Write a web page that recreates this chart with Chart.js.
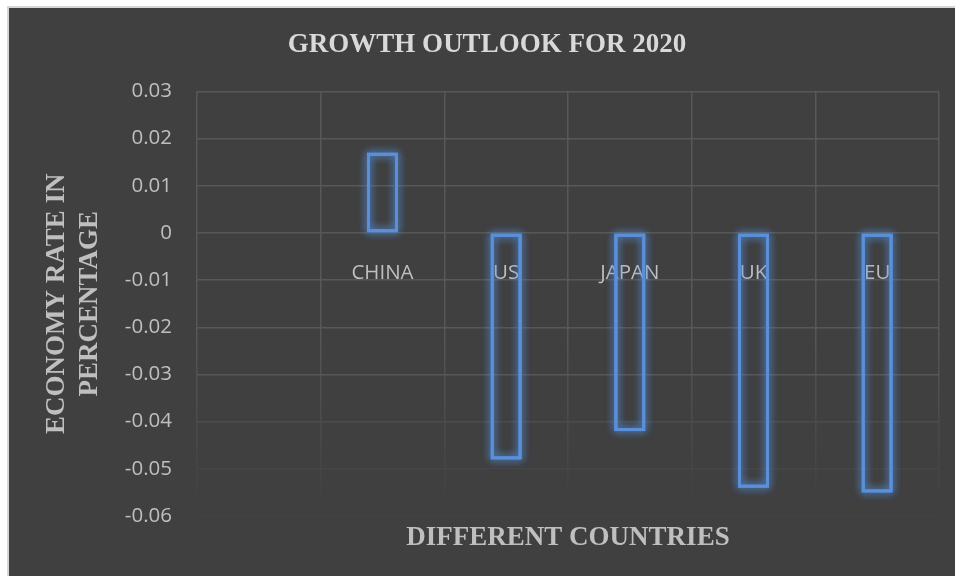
<!DOCTYPE html>
<html>
<head>
<meta charset="utf-8">
<title>Growth Outlook for 2020</title>
<script src="https://cdn.jsdelivr.net/npm/chart.js@4.4.0/dist/chart.umd.min.js"></script>
<style>
  html, body { margin: 0; padding: 0; background: #ffffff; }
  .frame {
    position: absolute;
    left: 7px; top: 6px;
    border-left: 2px solid #d6d6d6;
    border-top: 2px solid #d6d6d6;
    background: #404040;
    width: 946px; height: 568px;
  }
  canvas { display: block; }
</style>
</head>
<body>
<div class="frame">
  <canvas id="outlookChart" width="946" height="568"></canvas>
</div>
<script>
// growth outlook per economy (first slot is left empty)
const countries = ['', 'CHINA', 'US', 'JAPAN', 'UK', 'EU'];
const growthRates = [null, 0.017, -0.048, -0.042, -0.054, -0.055];
const yTicks = [-0.06, -0.05, -0.04, -0.03, -0.02, -0.01, 0, 0.01, 0.02, 0.03];

const serifBold = { family: '"Liberation Serif", "Times New Roman", serif', size: 27, weight: 'bold' };
const sans = { family: '"Open Sans", sans-serif', size: 20.5 };

// soft blue halo around each bar outline
const barGlow = {
  id: 'barGlow',
  beforeDatasetsDraw(chart) {
    const ctx = chart.ctx;
    ctx.save();
    ctx.shadowColor = 'rgba(84,145,225,1)';
    ctx.shadowBlur = 9;
    ctx.strokeStyle = 'rgba(84,145,225,0.8)';
    ctx.lineWidth = 3;
    chart.getDatasetMeta(0).data.forEach((bar, i) => {
      if (growthRates[i] === null) return;
      const { x, y, base, width } = bar.getProps(['x', 'y', 'base', 'width'], true);
      const top = Math.min(y, base);
      for (let pass = 0; pass < 2; pass++) {
        ctx.strokeRect(x - width / 2 + 1.5, top + 1.5, width - 3, Math.abs(base - y) - 3);
      }
    });
    ctx.restore();
  }
};

// grid fades out toward the bottom of the plot
function fadeGradient(chart) {
  const area = chart.chartArea;
  if (!area) return '#575757';
  const g = chart.ctx.createLinearGradient(0, area.top, 0, area.bottom);
  g.addColorStop(0, '#585858');
  g.addColorStop(0.55, '#575757');
  g.addColorStop(0.8, '#4a4a4a');
  g.addColorStop(0.97, '#404040');
  return g;
}

function rowColor(value) {
  if (value >= -0.03) return '#585858';
  if (value >= -0.04) return '#4c4c4c';
  if (value >= -0.05) return '#464646';
  return '#424242';
}

Chart.defaults.color = '#bfbfbf';
Chart.defaults.font.family = sans.family;

new Chart(document.getElementById('outlookChart'), {
  type: 'bar',
  data: {
    labels: countries,
    datasets: [{
      label: 'Growth rate',
      data: growthRates,
      backgroundColor: 'rgba(0,0,0,0)',
      borderColor: '#5b90d8',
      borderWidth: 3,
      borderSkipped: false,
      categoryPercentage: 1,
      barPercentage: 0.25
    }]
  },
  options: {
    responsive: false,
    animation: false,
    layout: { padding: { left: 26, right: 16, top: 0, bottom: 0 } },
    plugins: {
      legend: { display: false },
      tooltip: { enabled: false },
      title: {
        display: true,
        text: 'GROWTH OUTLOOK FOR 2020',
        color: '#d9d9d9',
        font: serifBold,
        padding: { top: 21, bottom: 30 }
      }
    },
    scales: {
      x: {
        position: 'bottom',
        grid: {
          color: ctx => fadeGradient(ctx.chart),
          lineWidth: 1.5,
          drawTicks: false
        },
        border: { display: false },
        ticks: { display: false },
        title: {
          display: true,
          text: 'DIFFERENT COUNTRIES',
          color: '#bfbfbf',
          font: serifBold,
          padding: { top: 4, bottom: 22 }
        },
        afterFit: scale => { scale.height = 60; }
      },
      xLabels: {
        type: 'category',
        position: { y: 0 },
        grid: { display: false, drawTicks: false },
        border: { display: false },
        ticks: { color: '#bfbfbf', font: sans, padding: 28, maxRotation: 0 }
      },
      y: {
        min: -0.06,
        max: 0.03,
        afterBuildTicks: scale => { scale.ticks = yTicks.map(v => ({ value: v })); },
        grid: {
          color: ctx => rowColor(ctx.tick ? ctx.tick.value : 0),
          lineWidth: 1.5,
          drawTicks: false
        },
        border: { display: false },
        ticks: {
          color: '#bfbfbf',
          font: sans,
          padding: 25,
          callback: v => String(Number(v.toFixed(2)))
        },
        title: {
          display: true,
          text: ['ECONOMY RATE IN', 'PERCENTAGE'],
          color: '#bfbfbf',
          font: serifBold,
          padding: { top: 6, bottom: 0 }
        },
        afterFit: scale => { scale.width = 162; }
      }
    }
  },
  plugins: [barGlow]
});
</script>
</body>
</html>
